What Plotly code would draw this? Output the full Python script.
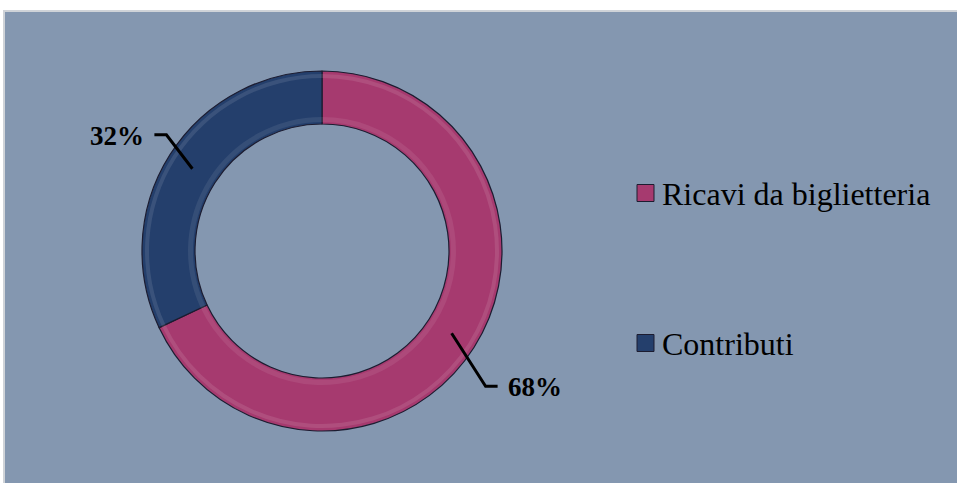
import math
import plotly.graph_objects as go

# Revenue breakdown
labels = ["Ricavi da biglietteria", "Contributi"]
values = [68, 32]
colors = ["#a63a6f", "#243f6c"]

W, H = 957, 483
CX, CY = 322, 251          # donut centre (px)
R_OUT, R_IN = 180, 127     # outer / inner radius (px)
FONT = "Liberation Serif"

def px(x, y):
    return x / W, 1 - y / H

def domain(r):
    return dict(x=[(CX - r) / W, (CX + r) / W],
                y=[(H - CY - r) / H, (H - CY + r) / H])

fig = go.Figure()
fig.add_trace(go.Pie(
    labels=labels,
    values=values,
    sort=False,
    direction="clockwise",
    rotation=0,
    hole=R_IN / R_OUT,
    textinfo="none",
    hoverinfo="label+percent",
    marker=dict(colors=colors, line=dict(color="#1c1c30", width=1.2)),
    showlegend=False,
    domain=domain(R_OUT),
))

# Soft bevel highlights near the outer and inner edges of the ring
for r_o, r_i, alpha in [(R_OUT - 3, R_OUT - 7, 0.10), (R_IN + 7, R_IN + 2, 0.08)]:
    fig.add_trace(go.Pie(
        labels=labels, values=values, sort=False, direction="clockwise", rotation=0,
        hole=r_i / r_o, textinfo="none", hoverinfo="skip", showlegend=False,
        marker=dict(colors=[f"rgba(255,255,255,{alpha})"] * len(values),
                    line=dict(width=0)),
        domain=domain(r_o),
    ))

shapes = []
annotations = []

# Panel background
x0, y1 = px(4, 11)
shapes.append(dict(type="rect", xref="paper", yref="paper", x0=x0, x1=1.01, y0=-0.01, y1=y1,
                   fillcolor="#8497b0", line=dict(color="#cfd3d8", width=2), layer="below"))

# Percentage labels with elbow leader lines
elbow_offsets = [(34, 53), (-26, -34)]   # px from ring midpoint to elbow
tail = [12, -12]                          # horizontal segment length
total = sum(values)
start = 0.0
for i, v in enumerate(values):
    mid = (start + v / 2) / total * 2 * math.pi
    start += v
    r_mid = (R_OUT + R_IN) / 2
    mx = CX + r_mid * math.sin(mid)
    my = CY - r_mid * math.cos(mid)
    ex, ey = mx + elbow_offsets[i][0], my + elbow_offsets[i][1]
    tx = ex + tail[i]
    path = "M {} {} L {} {} L {} {}".format(*px(mx, my), *px(ex, ey), *px(tx, ey))
    shapes.append(dict(type="path", xref="paper", yref="paper", path=path,
                       line=dict(color="black", width=3)))
    pct = round(v / total * 100)
    right = tail[i] > 0
    lx, ly = px(tx + (8 if right else -8), ey + 1)
    annotations.append(dict(xref="paper", yref="paper", x=lx, y=ly,
                            xanchor="left" if right else "right", yanchor="middle",
                            text=f"<b>{pct}%</b>", showarrow=False,
                            font=dict(family=FONT, size=27, color="black")))

# Legend drawn as squares + text
legend_y = [193, 343]
for i, lab in enumerate(labels):
    sx0, sy0 = px(637, legend_y[i] - 8.5)
    sx1, sy1 = px(654, legend_y[i] + 8.5)
    shapes.append(dict(type="rect", xref="paper", yref="paper",
                       x0=sx0, x1=sx1, y0=sy1, y1=sy0,
                       fillcolor=colors[i], line=dict(color="#1c1c30", width=1)))
    tx, ty = px(660, legend_y[i] + 1)
    annotations.append(dict(xref="paper", yref="paper", x=tx, y=ty,
                            xanchor="left", yanchor="middle", text=lab, showarrow=False,
                            font=dict(family=FONT, size=32, color="black")))

fig.update_layout(
    width=W, height=H,
    margin=dict(l=0, r=0, t=0, b=0),
    paper_bgcolor="white",
    plot_bgcolor="white",
    shapes=shapes,
    annotations=annotations,
)

fig.write_html("out.html")
